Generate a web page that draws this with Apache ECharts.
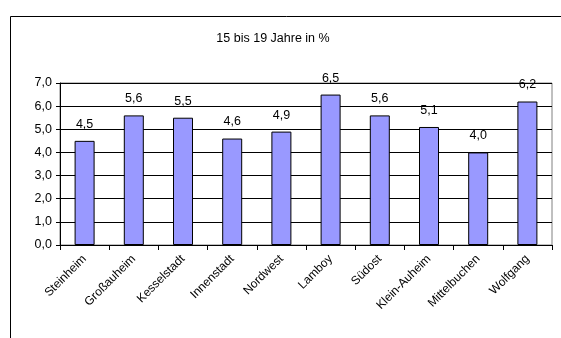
<!DOCTYPE html>
<html><head><meta charset="utf-8">
<script src="https://cdn.jsdelivr.net/npm/echarts@6/dist/echarts.min.js"></script>
<style>html,body{margin:0;padding:0;background:#fff}#c{width:561px;height:338px}</style>
</head><body><div id="c"></div>
<script>
var categories = ["Steinheim","Großauheim","Kesselstadt","Innenstadt","Nordwest","Lamboy","Südost","Klein-Auheim","Mittelbuchen","Wolfgang"];
var values = [4.5, 5.6, 5.5, 4.6, 4.9, 6.5, 5.6, 5.1, 4.0, 6.2];
var titleText = "15 bis 19 Jahre in %";
var fmt = function(v){ return Number(v).toFixed(1).replace('.', ','); };
var FF = 'Liberation Sans, Arial, sans-serif';
var chart = echarts.init(document.getElementById('c'), null, {renderer:'canvas'});
chart.setOption({
  animation: false,
  textStyle: {fontFamily: FF},
  title: {text: titleText, left: 268, top: 27, textAlign: 'center',
    textStyle: {fontSize: 12.5, fontWeight: 'normal', color: '#000', fontFamily: FF}},
  graphic: [{type: 'rect', shape: {x: 10.5, y: 16.5, width: 600, height: 400},
    style: {fill: 'none', stroke: '#000', lineWidth: 1}, silent: true, z: -10}],
  grid: {left: 60, top: 83, right: 9, bottom: 93, show: true, borderColor: '#808080', borderWidth: 1},
  xAxis: {type: 'category', data: categories, boundaryGap: true,
    axisLine: {lineStyle: {color: '#000', width: 1}},
    axisTick: {show: true, alignWithLabel: false, length: 5, lineStyle: {color: '#000'}},
    axisLabel: {rotate: 45, fontSize: 12, color: '#000', margin: 12, interval: 0, fontFamily: FF}},
  yAxis: {type: 'value', min: 0, max: 7, interval: 1,
    axisLine: {show: true, lineStyle: {color: '#000', width: 1}},
    axisTick: {show: true, length: 4, lineStyle: {color: '#000'}},
    axisLabel: {formatter: fmt, fontSize: 12.5, color: '#000', margin: 8, fontFamily: FF},
    splitLine: {show: true, lineStyle: {color: '#000', width: 1}}},
  series: [{type: 'bar', data: values, barWidth: 20,
    itemStyle: {color: '#9999FF', borderColor: '#000', borderWidth: 1},
    label: {show: true, position: 'top', distance: 10, formatter: function(p){return fmt(p.value);},
      fontSize: 12.5, color: '#000', fontFamily: FF}}]
});
</script></body></html>
